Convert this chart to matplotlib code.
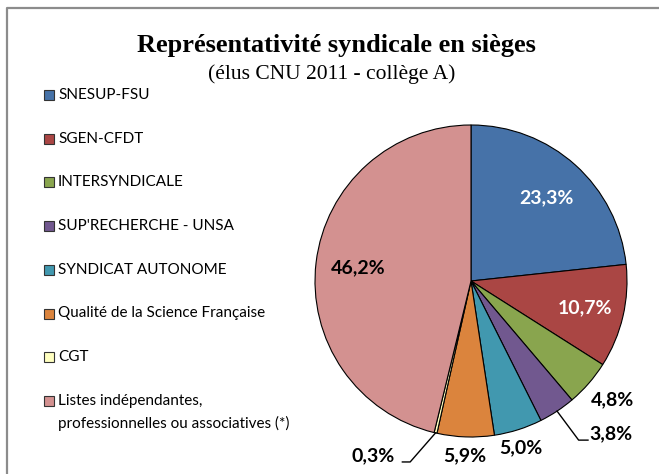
import matplotlib
matplotlib.use("Agg")
import matplotlib.pyplot as plt
from matplotlib.patches import Rectangle
from matplotlib.lines import Line2D
import numpy as np

categories = ["SNESUP-FSU", "SGEN-CFDT", "INTERSYNDICALE", "SUP'RECHERCHE - UNSA",
              "SYNDICAT AUTONOME", "Qualité de la Science Française", "CGT",
              "Listes indépendantes,\nprofessionnelles ou associatives (*)"]
values = [23.3, 10.7, 4.8, 3.8, 5.0, 5.9, 0.3, 46.2]
value_labels = ["23,3%", "10,7%", "4,8%", "3,8%", "5,0%", "5,9%", "0,3%", "46,2%"]
colors = ["#4672A8", "#AA4644", "#89A54E", "#71588F", "#4198AF", "#DB843D", "#FFFFC0", "#D39190"]

W, H = 659, 474
fig = plt.figure(figsize=(W / 100, H / 100), dpi=100)

# frame (top & left visible)
fig.add_artist(Line2D([7 / W, 7 / W, 1.0], [0.0, 1 - 8 / H, 1 - 8 / H],
                      transform=fig.transFigure, color="#8c8c8c", lw=1.6))

# title
fig.text(336 / W, 1 - 52 / H, "Représentativité syndicale en sièges",
         family="Liberation Serif", weight="bold", fontsize=19, ha="center", va="baseline")
fig.text(332 / W, 1 - 79 / H, "(élus CNU 2011 - collège A)",
         family="Liberation Serif", fontsize=15.5, ha="center", va="baseline")

# pie
cx, cy, R = 471, 281, 156
ax = fig.add_axes([(cx - R) / W, (H - cy - R) / H, 2 * R / W, 2 * R / H])
wedges, _ = ax.pie(values, colors=colors, startangle=90, counterclock=False,
                   radius=1.0, wedgeprops=dict(edgecolor="black", linewidth=0.8))
ax.set_xlim(-1, 1)
ax.set_ylim(-1, 1)
ax.set_axis_off()

lab_font = dict(family="Lato", weight="bold", fontsize=14)
cum = np.cumsum([0] + values)
tot = sum(values)
mids = [90 - (cum[i] + values[i] / 2) / tot * 360 for i in range(len(values))]

inside = {0: ("white", 0.72), 1: ("white", 0.75), 7: ("black", 0.73)}
for i, (col, r) in inside.items():
    a = np.deg2rad(mids[i])
    ax.text(r * np.cos(a), r * np.sin(a), value_labels[i], color=col,
            ha="center", va="center", **lab_font)

outside = {2: (0.91, -0.76), 3: (0.90, -0.98), 4: (0.32, -1.07), 5: (-0.04, -1.12), 6: (-0.63, -1.12)}
for i, (x, y) in outside.items():
    ax.text(x, y, value_labels[i], color="black", ha="center", va="center",
            clip_on=False, **lab_font)

# leader lines
for i, pts in {3: [(0.69, -1.02), (0.75, -1.02)], 6: [(-0.39, -1.16), (-0.44, -1.16)]}.items():
    a = np.deg2rad(mids[i])
    xs = [np.cos(a)] + [p[0] for p in pts]
    ys = [np.sin(a)] + [p[1] for p in pts]
    ax.plot(xs, ys, color="black", lw=1.0, clip_on=False)

# legend
y0, step = 95, 43.7
for i, (lab, col) in enumerate(zip(categories, colors)):
    yc = y0 + i * step
    fig.add_artist(Rectangle((44 / W, 1 - (yc + 5) / H), 10 / W, 10 / H,
                             transform=fig.transFigure, facecolor=col,
                             edgecolor="#333333", lw=0.8))
    for k, line in enumerate(lab.split("\n")):
        fig.text(58 / W, 1 - (yc + 23 * k) / H, line, family="Lato", fontsize=11,
                 ha="left", va="center")

fig.savefig("out.png", dpi=100)
